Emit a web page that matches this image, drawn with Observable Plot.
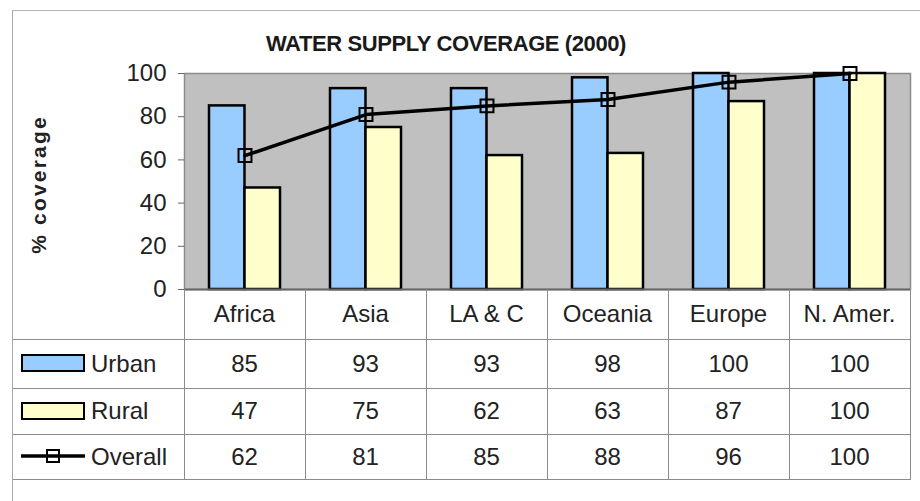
<!DOCTYPE html>
<html>
<head>
<meta charset="utf-8">
<script src="https://cdn.jsdelivr.net/npm/d3@7"></script>
<script src="https://cdn.jsdelivr.net/npm/@observablehq/plot@0.6"></script>
<style>
  body { margin: 0; background: #fff; font-family: "Liberation Sans", Arial, sans-serif; }
  #wrap { position: relative; width: 920px; height: 501px; overflow: hidden; background: #fff; }
  #chart { position: absolute; left: 0; top: 0; }
  #frame { position: absolute; left: 12px; top: 10px; width: 960px; height: 560px;
           border-left: 1.5px solid #a8a8a8; border-top: 1.5px solid #b4b4b4; pointer-events: none; }
  #title { position: absolute; top: 33px; left: 0; width: 892px; text-align: center;
           font-weight: bold; font-size: 22px; line-height: 22px; letter-spacing: -0.4px; color: #1a1a1a; }
  #tbl { position: absolute; left: 13px; top: 289px; border-collapse: collapse; table-layout: fixed;
         font-size: 24px; color: #222; }
  #tbl td { border: 1px solid #8c8c8c; text-align: center; padding: 0; white-space: nowrap; }
  #tbl tr.head td { border-top: none; }
  #tbl td.lg { text-align: left; padding-left: 8px; border-left: none; }
  .sw { display: inline-block; width: 60px; height: 14px; border: 2px solid #000; vertical-align: middle;
        margin-right: 6px; position: relative; top: -2px; }
  .lsym { display: inline-block; vertical-align: middle; margin-right: 6px; position: relative; top: -2px; }
</style>
</head>
<body>
<div id="wrap">
  <div id="chart"></div>
  <div id="title"></div>
  <table id="tbl"></table>
  <div id="frame"></div>
</div>
<script>
// ---- data ----
const title = "WATER SUPPLY COVERAGE (2000)";
const yLabel = "% coverage";
const categories = ["Africa", "Asia", "LA & C", "Oceania", "Europe", "N. Amer."];
const seriesNames = ["Urban", "Rural", "Overall"];
const urban   = [85, 93, 93, 98, 100, 100];
const rural   = [47, 75, 62, 63, 87, 100];
const overall = [62, 81, 85, 88, 96, 100];
const yTicks = [0, 20, 40, 60, 80, 100];

// ---- styles ----
const urbanColor = "#99ccff";
const ruralColor = "#ffffcc";
const plotBg = "#c0c0c0";

const rows = categories.map((c, i) => ({cat: c, urban: urban[i], rural: rural[i], overall: overall[i]}));

document.getElementById("title").textContent = title;

const bandPad = 0.413;
const bandW = 726 * (1 - bandPad) / 6;

const chart = Plot.plot({
  width: 920,
  height: 305,
  marginTop: 73,
  marginBottom: 16,
  marginLeft: 184,
  marginRight: 10,
  style: {background: "transparent", fontFamily: "'Liberation Sans', Arial, sans-serif", color: "#222"},
  x: {type: "band", domain: categories, paddingInner: bandPad, paddingOuter: bandPad / 2, axis: null},
  y: {domain: [0, 100], ticks: yTicks, axis: null},
  marks: [
    Plot.frame({fill: plotBg, stroke: "#8a8a8a", strokeWidth: 1.5}),
    Plot.barY(rows, {x: "cat", y: "urban", fill: urbanColor, stroke: "#000", strokeWidth: 2.5, insetRight: bandW / 2}),
    Plot.barY(rows, {x: "cat", y: "rural", fill: ruralColor, stroke: "#000", strokeWidth: 2.5, insetLeft: bandW / 2}),
    Plot.ruleY([0], {stroke: "#666", strokeWidth: 2}),
    Plot.line(rows, {x: "cat", y: "overall", stroke: "#000", strokeWidth: 3.5}),
    Plot.dot(rows, {x: "cat", y: "overall", symbol: "square", r: 7.3, stroke: "#000", strokeWidth: 2, fill: "none"}),
    Plot.axisY({ticks: yTicks, tickSize: 6, tickPadding: 12, fontSize: 24, stroke: "#666", label: null}),
    Plot.text([yLabel], {text: d => d, frameAnchor: "left", textAnchor: "middle", rotate: -90, dx: -145, dy: 3,
                         fontSize: 21, fontWeight: "bold", fill: "#222"})
  ]
});
chart.querySelectorAll("text").forEach(t => {
  if (t.textContent === yLabel) t.setAttribute("letter-spacing", "2.2");
});
document.getElementById("chart").appendChild(chart);

// ---- data table below the chart ----
const tbl = document.getElementById("tbl");
const colgroup = document.createElement("colgroup");
[171, ...categories.map(() => 121)].forEach(w => {
  const col = document.createElement("col");
  col.style.width = w + "px";
  colgroup.appendChild(col);
});
tbl.appendChild(colgroup);

const rowHeights = [50, 49, 46, 45];
const head = document.createElement("tr");
head.className = "head";
head.style.height = rowHeights[0] + "px";
const blank = document.createElement("td");
blank.style.borderLeft = "none";
head.appendChild(blank);
categories.forEach(c => {
  const td = document.createElement("td");
  td.textContent = c;
  head.appendChild(td);
});
tbl.appendChild(head);

const seriesValues = [urban, rural, overall];
const swatchColors = [urbanColor, ruralColor, null];
seriesNames.forEach((name, si) => {
  const tr = document.createElement("tr");
  tr.style.height = rowHeights[si + 1] + "px";
  const lg = document.createElement("td");
  lg.className = "lg";
  if (swatchColors[si]) {
    const sw = document.createElement("span");
    sw.className = "sw";
    sw.style.background = swatchColors[si];
    lg.appendChild(sw);
  } else {
    const ns = "http://www.w3.org/2000/svg";
    const s = document.createElementNS(ns, "svg");
    s.setAttribute("width", 64); s.setAttribute("height", 18);
    s.setAttribute("class", "lsym");
    const ln = document.createElementNS(ns, "line");
    ln.setAttribute("x1", 0); ln.setAttribute("x2", 64); ln.setAttribute("y1", 9); ln.setAttribute("y2", 9);
    ln.setAttribute("stroke", "#000"); ln.setAttribute("stroke-width", 3.5);
    const rc = document.createElementNS(ns, "rect");
    rc.setAttribute("x", 26); rc.setAttribute("y", 3); rc.setAttribute("width", 12); rc.setAttribute("height", 12);
    rc.setAttribute("fill", "none"); rc.setAttribute("stroke", "#000"); rc.setAttribute("stroke-width", 2);
    s.appendChild(ln); s.appendChild(rc);
    lg.appendChild(s);
  }
  lg.appendChild(document.createTextNode(name));
  tr.appendChild(lg);
  seriesValues[si].forEach(v => {
    const td = document.createElement("td");
    td.textContent = v;
    tr.appendChild(td);
  });
  tbl.appendChild(tr);
});
</script>
</body>
</html>
